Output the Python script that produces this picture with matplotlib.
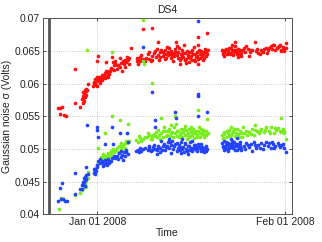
import datetime
import numpy as np
import matplotlib
matplotlib.use('Agg')
from matplotlib import pyplot as plt
import matplotlib.dates as mdates

plt.rcParams['font.family'] = ['Liberation Sans', 'DejaVu Sans']

# days after Jan 01 2008, noise value (Volts)
red = [(-6.5, 0.0563), (-6.1, 0.0563), (-5.8, 0.0564), (-6.2, 0.0554), (-5.5, 0.0552), (-5.1, 0.0551),
       (-3.6, 0.0623), (-3.6, 0.0571), (-2.9, 0.0565),
       (-2.5, 0.0576), (-2.4, 0.0581), (-2.3, 0.0588), (-2.2, 0.0585), (-2.1, 0.0590), (-2.0, 0.0587),
       (-1.9, 0.0583), (-1.8, 0.0589), (-1.7, 0.0591), (-2.3, 0.0578), (-2.0, 0.0580), (-1.6, 0.0600),
       (-2.2, 0.0573), (-1.9, 0.0592), (-2.4, 0.0570),
       (-0.7, 0.0597), (-0.5, 0.0601), (-0.3, 0.0600), (-0.1, 0.0596), (0.0, 0.0604), (-0.4, 0.0607),
       (-0.2, 0.0598), (0.05, 0.0643), (0.0, 0.0634), (0.2, 0.0606), (-0.6, 0.0603), (-0.1, 0.0610),
       (0.4, 0.0605), (0.6, 0.0609), (0.9, 0.0612), (1.1, 0.0613), (1.3, 0.0616), (1.6, 0.0617),
       (1.9, 0.0620), (2.1, 0.0619), (2.0, 0.0615), (1.4, 0.0611), (1.0, 0.0609), (0.8, 0.0614),
       (1.7, 0.0614), (2.4, 0.0623), (2.7, 0.0628), (1.4, 0.0633), (2.6, 0.0633), (2.5, 0.0641),
       (2.9, 0.0634), (3.2, 0.0628), (0.5, 0.0601), (0.7, 0.0606), (1.2, 0.0608), (1.5, 0.0620),
       (1.8, 0.0611), (2.2, 0.0624), (0.3, 0.0611), (2.8, 0.0621),
       (3.0, 0.0630), (3.4, 0.0628), (3.7, 0.0625), (4.0, 0.0632), (4.3, 0.0635), (4.5, 0.0637),
       (4.8, 0.0633), (5.0, 0.0636), (5.3, 0.0640), (5.5, 0.0655), (3.8, 0.0639), (4.1, 0.0620),
       (4.6, 0.0626), (3.3, 0.0622), (4.4, 0.0630), (4.9, 0.0641), (5.2, 0.0630),
       (6.5, 0.0634), (6.8, 0.0637), (6.6, 0.0640), (7.1, 0.0634), (7.4, 0.0636), (7.6, 0.0638),
       (7.0, 0.0641), (7.5, 0.0683), (9.0, 0.0686), (6.7, 0.0630), (7.3, 0.0644), (7.8, 0.0635),
       (8.0, 0.0640), (8.3, 0.0645), (8.6, 0.0638), (9.0, 0.0642), (9.3, 0.0647), (9.5, 0.0650),
       (9.7, 0.0641), (10.0, 0.0664), (10.1, 0.0644), (10.4, 0.0648), (10.6, 0.0652), (10.8, 0.0643),
       (11.0, 0.0646), (11.2, 0.0651), (11.4, 0.0640), (11.6, 0.0648), (11.8, 0.0655), (12.0, 0.0645),
       (12.2, 0.0650), (12.4, 0.0642), (12.6, 0.0647), (12.8, 0.0653), (13.0, 0.0664), (13.1, 0.0658),
       (13.2, 0.0644), (13.4, 0.0649), (13.6, 0.0637), (13.8, 0.0645), (14.0, 0.0652), (14.2, 0.0641),
       (14.3, 0.0659), (14.5, 0.0647), (14.7, 0.0632), (14.9, 0.0644), (15.1, 0.0649), (15.3, 0.0639),
       (15.5, 0.0643), (15.7, 0.0651), (15.9, 0.0636), (16.1, 0.0646), (16.3, 0.0641), (16.5, 0.0649),
       (16.7, 0.0638), (16.9, 0.0645), (17.1, 0.0650), (17.3, 0.0643), (17.5, 0.0646), (17.7, 0.0640),
       (17.9, 0.0648), (18.0, 0.0643), (18.2, 0.0651), (8.8, 0.0635), (10.2, 0.0637), (11.5, 0.0656),
       (12.5, 0.0635), (13.7, 0.0630), (14.6, 0.0638), (15.2, 0.0633), (16.0, 0.0656), (16.6, 0.0630),
       (17.4, 0.0636), (17.8, 0.0653), (16.6, 0.0672), (16.7, 0.0660), (18.1, 0.0678),
       (8.5, 0.0648), (9.1, 0.0637), (9.9, 0.0653), (10.3, 0.0641), (10.9, 0.0649), (11.1, 0.0638),
       (11.7, 0.0644), (12.1, 0.0639), (12.7, 0.0642), (12.9, 0.0648), (13.3, 0.0640), (13.5, 0.0654),
       (13.9, 0.0639), (14.1, 0.0647), (14.4, 0.0636), (14.8, 0.0650), (15.0, 0.0641), (15.4, 0.0648),
       (15.6, 0.0637), (15.8, 0.0646), (16.2, 0.0635), (16.4, 0.0643), (16.8, 0.0651), (17.0, 0.0639),
       (17.2, 0.0646), (17.6, 0.0649), (18.1, 0.0645), (11.3, 0.0645), (12.3, 0.0646), (14.0, 0.0643),
       (20.6, 0.0651), (20.8, 0.0646), (21.0, 0.0649), (21.2, 0.0653), (21.4, 0.0645), (21.6, 0.0650),
       (21.8, 0.0655), (22.0, 0.0647), (22.2, 0.0651), (22.4, 0.0644), (22.6, 0.0652), (22.8, 0.0657),
       (23.0, 0.0648), (23.2, 0.0653), (23.4, 0.0645), (23.6, 0.0650), (23.8, 0.0642), (22.8, 0.0664),
       (24.0, 0.0651), (24.4, 0.0648), (24.8, 0.0653), (25.2, 0.0649), (25.6, 0.0652), (26.0, 0.0664),
       (26.2, 0.0650), (26.6, 0.0647), (27.0, 0.0652), (27.4, 0.0649), (27.8, 0.0655), (28.2, 0.0651),
       (28.6, 0.0658), (28.9, 0.0653), (29.2, 0.0659), (29.6, 0.0654), (30.0, 0.0657), (30.3, 0.0652),
       (30.6, 0.0656), (30.9, 0.0653), (31.2, 0.0662), (25.0, 0.0643), (26.8, 0.0645), (28.0, 0.0647),
       (29.0, 0.0660), (30.4, 0.0650), (21.0, 0.0643), (22.3, 0.0659), (23.3, 0.0641), (24.6, 0.0657),
       (20.7, 0.0648), (21.1, 0.0652), (21.5, 0.0648), (21.9, 0.0646), (22.1, 0.0654), (22.5, 0.0649),
       (22.9, 0.0651), (23.1, 0.0646), (23.5, 0.0652), (23.7, 0.0647), (24.2, 0.0654), (25.4, 0.0651),
       (26.4, 0.0653), (27.2, 0.0650), (27.6, 0.0653), (28.4, 0.0655), (29.4, 0.0651), (29.8, 0.0656),
       (30.1, 0.0659), (30.8, 0.0650), (31.1, 0.0655)]

green = [(-6.3, 0.0408), (-6.0, 0.0425), (-5.7, 0.0423),
         (-3.6, 0.0429), (-2.9, 0.0433), (-2.6, 0.0437), (-2.4, 0.0440), (-2.2, 0.0444), (-2.0, 0.0447),
         (-1.8, 0.0451), (-1.9, 0.0442), (-1.7, 0.0651), (-1.6, 0.0455), (-1.5, 0.0465),
         (-0.5, 0.0465), (-0.3, 0.0469), (0.0, 0.0476), (0.05, 0.0502), (0.2, 0.0479), (0.5, 0.0482),
         (0.8, 0.0485), (1.1, 0.0488), (1.3, 0.0490), (1.5, 0.0486), (1.8, 0.0491), (2.0, 0.0489),
         (1.2, 0.0525), (2.5, 0.0550), (2.5, 0.0648), (2.3, 0.0493), (2.7, 0.0496),
         (0.6, 0.0487), (1.0, 0.0492), (1.7, 0.0494), (2.2, 0.0497), (2.6, 0.0500),
         (3.0, 0.0498), (3.3, 0.0502), (3.6, 0.0505), (3.9, 0.0500), (4.1, 0.0504), (4.4, 0.0507),
         (4.6, 0.0502), (4.9, 0.0509), (3.7, 0.0545), (4.9, 0.0525), (5.0, 0.0538), (5.3, 0.0512),
         (3.4, 0.0496), (4.0, 0.0509), (4.7, 0.0512),
         (6.4, 0.0514), (6.7, 0.0510), (7.0, 0.0517), (7.3, 0.0513), (7.6, 0.0516), (7.5, 0.0697),
         (7.6, 0.0634), (7.7, 0.0630), (9.0, 0.0601), (6.9, 0.0520), (7.8, 0.0519),
         (8.2, 0.0518), (8.5, 0.0521), (8.8, 0.0515), (9.1, 0.0520), (9.4, 0.0523), (9.7, 0.0526),
         (9.9, 0.0518), (10.2, 0.0522), (10.5, 0.0548), (10.6, 0.0525), (10.9, 0.0519), (11.2, 0.0527),
         (11.5, 0.0522), (11.8, 0.0530), (12.0, 0.0520), (12.3, 0.0526), (12.6, 0.0533), (12.8, 0.0524),
         (12.9, 0.0550), (13.0, 0.0539), (13.2, 0.0520), (13.4, 0.0528), (13.6, 0.0523), (13.8, 0.0531),
         (14.0, 0.0518), (14.2, 0.0526), (14.4, 0.0521), (14.6, 0.0529), (14.8, 0.0516), (15.0, 0.0524),
         (15.2, 0.0519), (15.4, 0.0527), (15.6, 0.0522), (15.8, 0.0530), (16.0, 0.0517), (16.2, 0.0525),
         (16.4, 0.0521), (16.6, 0.0560), (16.7, 0.0527), (16.9, 0.0519), (17.1, 0.0531), (17.3, 0.0523),
         (17.5, 0.0526), (17.7, 0.0519), (17.9, 0.0528), (18.1, 0.0546), (18.0, 0.0521), (11.0, 0.0534),
         (12.2, 0.0536), (14.5, 0.0535), (15.5, 0.0533), (16.8, 0.0534),
         (8.4, 0.0524), (9.0, 0.0516), (9.6, 0.0520), (10.0, 0.0529), (10.4, 0.0516), (10.8, 0.0527),
         (11.3, 0.0520), (11.6, 0.0528), (12.1, 0.0524), (12.5, 0.0518), (13.1, 0.0527), (13.5, 0.0519),
         (13.9, 0.0524), (14.3, 0.0530), (14.7, 0.0522), (15.1, 0.0530), (15.3, 0.0520), (15.7, 0.0526),
         (16.1, 0.0528), (16.5, 0.0518), (17.0, 0.0524), (17.4, 0.0529), (17.8, 0.0522), (18.2, 0.0525),
         (20.6, 0.0521), (20.9, 0.0526), (21.2, 0.0519), (21.5, 0.0524), (21.8, 0.0529), (22.1, 0.0521),
         (22.4, 0.0527), (22.7, 0.0520), (23.0, 0.0531), (23.3, 0.0523), (23.6, 0.0528), (23.9, 0.0518),
         (24.3, 0.0525), (24.7, 0.0521), (25.1, 0.0526), (25.5, 0.0530), (25.9, 0.0522), (26.3, 0.0527),
         (26.7, 0.0524), (27.1, 0.0531), (27.5, 0.0526), (27.9, 0.0534), (28.3, 0.0528), (28.7, 0.0533),
         (29.1, 0.0525), (29.5, 0.0529), (29.9, 0.0532), (30.3, 0.0526), (30.6, 0.0530), (30.9, 0.0527),
         (31.2, 0.0515), (30.4, 0.0547), (22.0, 0.0533), (24.0, 0.0534), (26.0, 0.0536),
         (20.7, 0.0517), (21.0, 0.0523), (21.4, 0.0528), (21.7, 0.0520), (22.2, 0.0525), (22.6, 0.0530),
         (22.9, 0.0524), (23.4, 0.0519), (23.7, 0.0524), (24.5, 0.0528), (25.3, 0.0523), (26.1, 0.0529),
         (26.9, 0.0528), (27.7, 0.0529), (28.5, 0.0524), (29.3, 0.0532), (30.1, 0.0528), (30.8, 0.0524)]

blue = [(-6.5, 0.0420), (-6.2, 0.0440), (-5.9, 0.0448), (-5.6, 0.0423), (-5.3, 0.0421), (-5.0, 0.0420),
        (-6.0, 0.0424),
        (-3.6, 0.0463), (-3.6, 0.0431), (-2.9, 0.0439), (-2.6, 0.0445), (-2.4, 0.0450), (-2.3, 0.0447),
        (-2.2, 0.0455), (-2.1, 0.0452), (-2.0, 0.0457), (-1.9, 0.0460), (-1.8, 0.0472), (-1.7, 0.0536),
        (-2.5, 0.0438), (-2.1, 0.0444), (-1.6, 0.0462), (-2.2, 0.0449), (-1.9, 0.0454),
        (-0.6, 0.0463), (-0.4, 0.0467), (-0.3, 0.0470), (-0.2, 0.0466), (-0.1, 0.0473), (0.0, 0.0476),
        (-0.5, 0.0470), (0.0, 0.0534), (0.0, 0.0529), (0.05, 0.0519), (0.1, 0.0481), (-0.4, 0.0461),
        (0.4, 0.0479), (0.7, 0.0481), (1.0, 0.0478), (1.2, 0.0483), (1.5, 0.0480), (1.8, 0.0485),
        (2.0, 0.0478), (2.2, 0.0482), (1.2, 0.0508), (2.5, 0.0533), (2.6, 0.0507), (2.7, 0.0489),
        (0.9, 0.0474), (1.6, 0.0476), (0.5, 0.0484), (1.3, 0.0477), (1.9, 0.0481), (2.4, 0.0486),
        (3.0, 0.0486), (3.3, 0.0490), (3.6, 0.0494), (3.9, 0.0488), (4.1, 0.0491), (4.4, 0.0495),
        (4.6, 0.0489), (4.8, 0.0496), (5.0, 0.0492), (3.7, 0.0524), (4.9, 0.0524), (5.0, 0.0511),
        (4.2, 0.0483), (3.4, 0.0485), (4.0, 0.0497), (4.7, 0.0499),
        (6.4, 0.0497), (6.7, 0.0499), (7.0, 0.0501), (7.3, 0.0497), (7.6, 0.0500), (7.5, 0.0656),
        (9.0, 0.0587), (9.6, 0.0544), (9.6, 0.0533), (6.9, 0.0495), (7.8, 0.0502),
        (8.3, 0.0499), (8.6, 0.0501), (8.9, 0.0497), (9.2, 0.0503), (9.5, 0.0500), (9.8, 0.0498),
        (10.1, 0.0505), (10.4, 0.0502), (10.7, 0.0499), (11.0, 0.0508), (11.3, 0.0503), (11.6, 0.0510),
        (11.9, 0.0501), (12.1, 0.0506), (12.4, 0.0513), (12.7, 0.0504), (12.9, 0.0557), (13.0, 0.0548),
        (13.1, 0.0509), (13.3, 0.0501), (13.5, 0.0506), (13.7, 0.0498), (13.9, 0.0511), (14.1, 0.0503),
        (14.3, 0.0496), (14.5, 0.0507), (14.7, 0.0500), (14.9, 0.0505), (15.1, 0.0498), (15.3, 0.0510),
        (15.5, 0.0502), (15.7, 0.0497), (15.9, 0.0506), (16.1, 0.0500), (16.3, 0.0503), (16.5, 0.0499),
        (16.7, 0.0508), (16.9, 0.0501), (17.1, 0.0497), (17.3, 0.0503), (17.5, 0.0500), (17.7, 0.0496),
        (17.9, 0.0505), (18.1, 0.0500), (16.6, 0.0696), (16.7, 0.0584), (16.6, 0.0581), (16.7, 0.0551),
        (18.1, 0.0557), (11.8, 0.0515), (12.2, 0.0494), (14.0, 0.0515), (15.6, 0.0512), (10.6, 0.0512),
        (9.9, 0.0493),
        (8.5, 0.0504), (9.1, 0.0498), (9.4, 0.0506), (10.0, 0.0501), (10.3, 0.0496), (10.9, 0.0504),
        (11.2, 0.0498), (11.5, 0.0505), (12.0, 0.0510), (12.5, 0.0500), (12.8, 0.0508), (13.2, 0.0497),
        (13.6, 0.0503), (14.0, 0.0500), (14.4, 0.0509), (14.8, 0.0497), (15.2, 0.0504), (15.4, 0.0499),
        (15.8, 0.0502), (16.2, 0.0506), (16.4, 0.0497), (16.8, 0.0503), (17.2, 0.0507), (17.6, 0.0502),
        (18.0, 0.0497), (13.8, 0.0494), (15.0, 0.0493),
        (20.6, 0.0509), (20.8, 0.0503), (21.0, 0.0512), (21.2, 0.0506), (21.4, 0.0500), (21.6, 0.0509),
        (21.8, 0.0504), (22.0, 0.0515), (22.2, 0.0507), (22.4, 0.0501), (22.6, 0.0510), (22.8, 0.0504),
        (23.0, 0.0517), (23.2, 0.0508), (23.4, 0.0502), (23.6, 0.0506), (23.8, 0.0499), (24.2, 0.0504),
        (24.6, 0.0509), (25.0, 0.0503), (25.4, 0.0507), (25.8, 0.0511), (26.2, 0.0502), (26.6, 0.0506),
        (27.0, 0.0509), (27.4, 0.0500), (27.8, 0.0510), (28.2, 0.0505), (28.6, 0.0502), (29.0, 0.0508),
        (29.4, 0.0504), (29.8, 0.0509), (30.2, 0.0503), (30.5, 0.0506), (30.8, 0.0501), (31.1, 0.0495),
        (25.6, 0.0497), (28.8, 0.0511), (21.5, 0.0497), (23.1, 0.0498),
        (20.7, 0.0505), (20.9, 0.0499), (21.1, 0.0503), (21.3, 0.0510), (21.7, 0.0502), (21.9, 0.0508),
        (22.1, 0.0503), (22.3, 0.0512), (22.5, 0.0505), (22.7, 0.0499), (22.9, 0.0508), (23.3, 0.0504),
        (23.5, 0.0510), (23.7, 0.0502), (24.4, 0.0500), (24.8, 0.0506), (26.0, 0.0506), (26.8, 0.0502),
        (27.6, 0.0506), (28.4, 0.0509), (29.2, 0.0501), (30.0, 0.0506), (30.7, 0.0508)]

start = datetime.datetime(2008, 1, 1)
marker_day = -7.92
xlim_days = (-8.96, 32.1)
yticks = [0.04, 0.045, 0.05, 0.055, 0.06, 0.065, 0.07]
base = mdates.date2num(start)

fig = plt.figure(figsize=(3.22, 2.42), dpi=100)
ax = fig.add_axes([0.1335, 0.1145, 0.7725, 0.8095])

for series, col in [(red, '#ff1010'), (green, '#77ee1c'), (blue, '#2244ff')]:
    d = np.array(series)
    ax.scatter(base + d[:, 0], d[:, 1], s=7, c=col, linewidths=0, zorder=3)

ax.axvline(base + marker_day, color='#555555', lw=2, zorder=4)

ax.set_xlim(base + xlim_days[0], base + xlim_days[1])
ax.set_ylim(0.04, 0.07)
ax.set_yticks(yticks)
ax.set_yticklabels(['0.04', '0.045', '0.05', '0.055', '0.06', '0.065', '0.07'])
ax.set_xticks([mdates.date2num(datetime.datetime(2008, 1, 1)), mdates.date2num(datetime.datetime(2008, 2, 1))])
ax.xaxis.set_major_formatter(mdates.DateFormatter('%b %d %Y'))

ax.grid(True, linestyle=':', color='#bbbbbb', lw=0.6)
ax.tick_params(direction='in', length=2.5, width=0.6, labelsize=7.5, top=True, right=True,
               colors='#333333', labelcolor='#222222', pad=2)
for s in ax.spines.values():
    s.set_color('#555555')
    s.set_linewidth(0.7)

ax.set_title('DS4', fontsize=7.5, pad=4, color='#222222')
ax.set_xlabel('Time', fontsize=7.5, labelpad=1, color='#222222')
ax.set_ylabel('Gaussian noise σ (Volts)', fontsize=7.5, labelpad=2, color='#222222')

fig.savefig('out.png', dpi=100)
